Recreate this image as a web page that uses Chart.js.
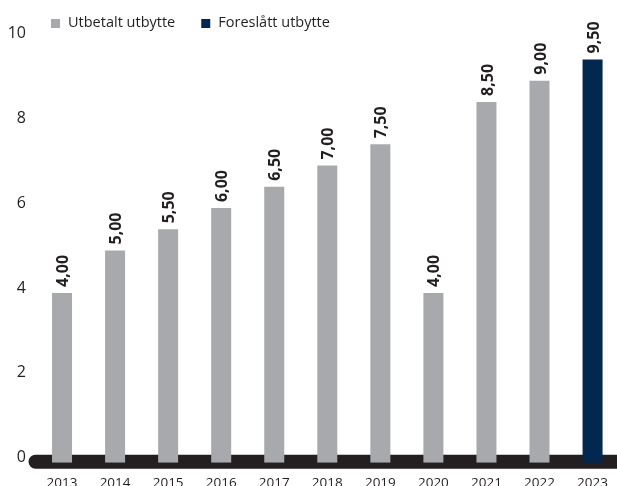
<!DOCTYPE html>
<html>
<head>
<meta charset="utf-8">
<script src="https://cdn.jsdelivr.net/npm/chart.js@4"></script>
<style>
  html, body { margin: 0; padding: 0; overflow: hidden; background: #fff; }
  #wrap { width: 620px; height: 503px; }
</style>
</head>
<body>
<div id="wrap"><canvas id="myChart" width="620" height="503"></canvas></div>
<script>
// chart data
const years = ['2013', '2014', '2015', '2016', '2017', '2018', '2019', '2020', '2021', '2022', '2023'];
const paid = [4.0, 5.0, 5.5, 6.0, 6.5, 7.0, 7.5, 4.0, 8.5, 9.0, null];
const proposed = [null, null, null, null, null, null, null, null, null, null, 9.5];

const FONT = '"Open Sans", "DejaVu Sans", sans-serif';
const TEXT = '#231f20';

// thick rounded baseline under the bars
const baseBar = {
    id: 'baseBar',
    beforeDatasetsDraw(chart) {
        const ctx = chart.ctx;
        const area = chart.chartArea;
        ctx.save();
        ctx.strokeStyle = TEXT;
        ctx.lineWidth = 14;
        ctx.lineCap = 'round';
        ctx.beginPath();
        ctx.moveTo(area.left, area.bottom - 1);
        ctx.lineTo(chart.width + 20, area.bottom - 1);
        ctx.stroke();
        ctx.restore();
    }
};

// rotated value labels above each bar
const valueLabels = {
    id: 'valueLabels',
    afterDatasetsDraw(chart) {
        const ctx = chart.ctx;
        ctx.save();
        ctx.fillStyle = TEXT;
        ctx.font = 'bold 16px ' + FONT;
        ctx.textAlign = 'left';
        ctx.textBaseline = 'middle';
        chart.data.datasets.forEach((ds, i) => {
            chart.getDatasetMeta(i).data.forEach((bar, j) => {
                const v = ds.data[j];
                if (v === null) return;
                ctx.save();
                ctx.translate(bar.x + 1.5, bar.y - 6);
                ctx.rotate(-Math.PI / 2);
                ctx.fillText(v.toFixed(2).replace('.', ','), 0, 0);
                ctx.restore();
            });
        });
        ctx.restore();
    }
};

// legend drawn at the top left
const topLegend = {
    id: 'topLegend',
    afterDraw(chart) {
        const ctx = chart.ctx;
        ctx.save();
        ctx.font = '14.5px ' + FONT;
        ctx.textBaseline = 'middle';
        ctx.textAlign = 'left';
        let x = 51;
        const y = 23;
        chart.data.datasets.forEach(ds => {
            ctx.fillStyle = ds.backgroundColor;
            ctx.fillRect(x, y - 4, 9, 9);
            ctx.fillStyle = TEXT;
            ctx.fillText(ds.label, x + 17, y);
            x += 17 + ctx.measureText(ds.label).width + 26;
        });
        ctx.restore();
    }
};

const ctx = document.getElementById('myChart').getContext('2d');
const myChart = new Chart(ctx, {
    type: 'bar',
    data: {
        labels: years,
        datasets: [
            {
                label: 'Utbetalt utbytte',
                data: paid,
                backgroundColor: '#a7a9ac',
                barPercentage: 0.377,
                categoryPercentage: 1
            },
            {
                label: 'Foreslått utbytte',
                data: proposed,
                backgroundColor: '#03284f',
                barPercentage: 0.377,
                categoryPercentage: 1
            }
        ]
    },
    options: {
        responsive: false,
        animation: false,
        grouped: false,
        layout: { padding: { left: 0, top: 18, right: 0, bottom: 0 } },
        plugins: {
            legend: { display: false },
            tooltip: { enabled: false }
        },
        scales: {
            x: {
                grid: { display: false, drawTicks: false },
                border: { display: false },
                ticks: {
                    padding: 12,
                    color: TEXT,
                    font: { family: FONT, size: 13.5 },
                    maxRotation: 0,
                    autoSkip: false
                }
            },
            y: {
                min: 0,
                max: 10.45,
                grid: { display: false, drawTicks: false },
                border: { display: false },
                afterFit(scale) { scale.width = 35.5; },
                ticks: {
                    stepSize: 2,
                    includeBounds: false,
                    padding: 9.5,
                    labelOffset: -5,
                    color: TEXT,
                    font: { family: FONT, size: 16 }
                }
            }
        }
    },
    plugins: [baseBar, valueLabels, topLegend]
});
</script>
</body>
</html>
